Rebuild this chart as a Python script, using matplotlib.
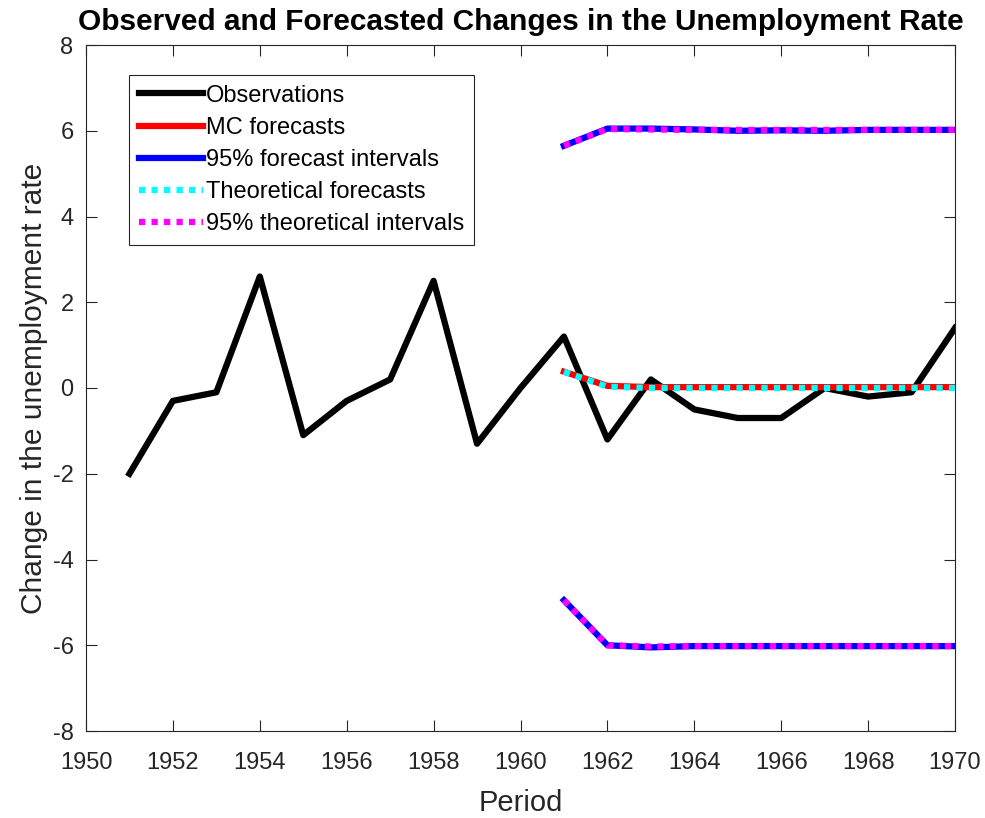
import numpy as np
import matplotlib.pyplot as plt

plt.rcParams.update({
    "font.family": ["Liberation Sans", "DejaVu Sans"],
    "axes.unicode_minus": False,
    "xtick.direction": "in",
    "ytick.direction": "in",
    "xtick.top": True,
    "ytick.right": True,
    "axes.edgecolor": "#262626",
    "xtick.color": "#262626",
    "ytick.color": "#262626",
})

# observed changes
obs_years = list(range(1951, 1971))
obs_values = [-2.0, -0.3, -0.1, 2.6, -1.1, -0.3, 0.2, 2.5, -1.3, 0.0,
              1.2, -1.2, 0.2, -0.5, -0.7, -0.7, 0.0, -0.2, -0.1, 1.4]

# forecasts
fc_years = list(range(1961, 1971))
mc_forecast = [0.38, 0.05, 0.02, 0.02, 0.02, 0.02, 0.02, 0.02, 0.02, 0.02]
mc_upper = [5.65, 6.05, 6.05, 6.03, 6.0, 6.01, 6.0, 6.02, 6.02, 6.02]
mc_lower = [-4.95, -6.0, -6.05, -6.02, -6.02, -6.02, -6.02, -6.02, -6.02, -6.02]
th_forecast = [0.38, 0.03, 0.0, 0.0, 0.0, 0.0, 0.0, 0.0, 0.0, 0.0]
th_upper = [5.65, 6.04, 6.03, 6.02, 6.02, 6.02, 6.02, 6.02, 6.02, 6.02]
th_lower = [-4.95, -6.0, -6.03, -6.02, -6.02, -6.02, -6.02, -6.02, -6.02, -6.02]

fig = plt.figure(figsize=(9.85, 8.18), dpi=100)
ax = fig.add_axes([86 / 985, 1 - 731 / 818, (955 - 86) / 985, (731 - 45) / 818])

lw = 4.5
dots = (1, 1)
ax.plot(obs_years, obs_values, color="black", lw=lw, label="Observations")
ax.plot(fc_years, mc_forecast, color="red", lw=lw, label="MC forecasts")
ax.plot(fc_years, mc_upper, color="blue", lw=lw, label="95% forecast intervals")
ax.plot(fc_years, mc_lower, color="blue", lw=lw)
ax.plot(fc_years, th_forecast, color="cyan", lw=lw, ls=(0, dots),
        dash_capstyle="butt", label="Theoretical forecasts")
ax.plot(fc_years, th_upper, color="magenta", lw=lw, ls=(0, dots),
        dash_capstyle="butt", label="95% theoretical intervals")
ax.plot(fc_years, th_lower, color="magenta", lw=lw, ls=(0, dots),
        dash_capstyle="butt")

ax.set_xlim(1950, 1970)
ax.set_ylim(-8, 8)
ax.set_xticks(range(1950, 1971, 2))
ax.set_yticks(range(-8, 9, 2))
ax.tick_params(labelsize=17, length=8, width=0.8)
ax.tick_params(axis="x", pad=15)
ax.tick_params(axis="y", pad=9)
ax.set_xlabel("Period", fontsize=21, color="#262626", labelpad=11)
ax.set_ylabel("Change in the unemployment rate", fontsize=21.5, color="#262626",
              labelpad=3)
ax.set_title("Observed and Forecasted Changes in the Unemployment Rate",
             fontsize=21.5, fontweight="bold", pad=11)

leg = ax.legend(loc="upper left", bbox_to_anchor=(0.05, 0.956), fontsize=17,
                fancybox=False, framealpha=1, edgecolor="#262626",
                handlelength=2.7, handletextpad=0.15, borderpad=0.4,
                labelspacing=0.43, borderaxespad=0)
leg.get_frame().set_linewidth(0.8)

fig.savefig("out.png", dpi=100)
